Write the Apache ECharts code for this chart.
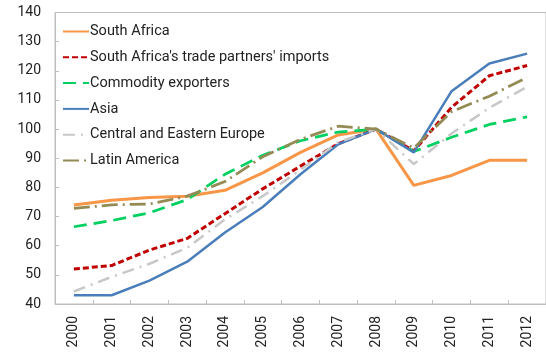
<!DOCTYPE html>
<html>
<head>
<meta charset="utf-8">
<style>
  html, body { margin: 0; padding: 0; background: #fff; }
  #chart { width: 546px; height: 352px; }
</style>
<script src="https://cdn.jsdelivr.net/npm/echarts@6/dist/echarts.min.js"></script>
</head>
<body>
<div id="chart"></div>
<script>
// Index levels, 2008 = 100
const years = ['2000', '2001', '2002', '2003', '2004', '2005', '2006', '2007', '2008', '2009', '2010', '2011', '2012'];
const southAfrica     = [74, 75.6, 76.5, 77, 79, 85, 92, 98, 100, 80.7, 84.1, 89.3, 89.3];
const tradePartners   = [52, 53.2, 58.5, 62.5, 71, 79.5, 87.3, 95, 100, 92.5, 107.5, 118.3, 121.8];
const commodityExp    = [66.5, 68.6, 71.3, 75.8, 84.5, 91, 96, 99, 100, 92.3, 97.2, 101.6, 104.2];
const asia            = [43, 43, 48, 54.5, 64.5, 73.3, 84.5, 94.8, 100, 92, 113, 122.5, 125.9];
const centralEastEur  = [44.3, 49.3, 53.8, 59.3, 69, 77, 86, 95.5, 100, 88, 98.5, 107.3, 114.5];
const latinAmerica    = [72.8, 74, 74.3, 77, 82, 90.5, 96.5, 101, 100, 93.5, 106, 111.3, 117.7];

const font = 'Roboto, "Noto Sans", sans-serif';

function line(name, data, color, width, dash) {
  return {
    name: name,
    type: 'line',
    data: data,
    symbol: 'none',
    showSymbol: false,
    smooth: false,
    lineStyle: { color: color, width: width, type: dash || 'solid', cap: 'butt' },
    itemStyle: { color: color },
    emphasis: { disabled: true }
  };
}

const chart = echarts.init(document.getElementById('chart'), null, { renderer: 'canvas' });
chart.setOption({
  animation: false,
  backgroundColor: '#fff',
  grid: {
    left: 55, top: 12.5, bottom: 48, right: -6.5,
    show: true, borderColor: '#BFBFBF', borderWidth: 1, backgroundColor: 'transparent'
  },
  legend: {
    orient: 'vertical',
    left: 62, top: 24, padding: 0,
    itemWidth: 26, itemHeight: 14, itemGap: 10.8,
    itemStyle: { opacity: 0 },
    textStyle: { fontFamily: font, fontSize: 14.5, lineHeight: 14, color: '#222', padding: [0, 0, 0, -4] },
    data: ['South Africa', "South Africa's trade partners' imports", 'Commodity exporters', 'Asia', 'Central and Eastern Europe', 'Latin America']
  },
  xAxis: {
    type: 'category',
    data: years,
    boundaryGap: true,
    axisLine: { lineStyle: { color: '#BFBFBF', width: 1 } },
    axisTick: { show: true, inside: true, length: 4, lineStyle: { color: '#BFBFBF' } },
    axisLabel: { rotate: 90, fontFamily: font, fontSize: 14, color: '#222', margin: 12 },
    splitLine: { show: false }
  },
  yAxis: {
    type: 'value',
    min: 40, max: 140, interval: 10,
    axisLine: { show: true, lineStyle: { color: '#BFBFBF', width: 1 } },
    axisTick: { show: true, inside: true, length: 4, lineStyle: { color: '#BFBFBF' } },
    axisLabel: { fontFamily: font, fontSize: 14, color: '#222', margin: 14 },
    splitLine: { show: false }
  },
  series: [
    line('South Africa', southAfrica, '#F79646', 3),
    line("South Africa's trade partners' imports", tradePartners, '#C00000', 3, [6, 3]),
    line('Commodity exporters', commodityExp, '#00D060', 2.75, [13, 7]),
    line('Asia', asia, '#4A7EBB', 2.5),
    line('Central and Eastern Europe', centralEastEur, '#C8C8C8', 2.5, [12, 6, 2, 6]),
    line('Latin America', latinAmerica, '#948A54', 2.75, [16, 5, 2, 5])
  ]
});
</script>
</body>
</html>
